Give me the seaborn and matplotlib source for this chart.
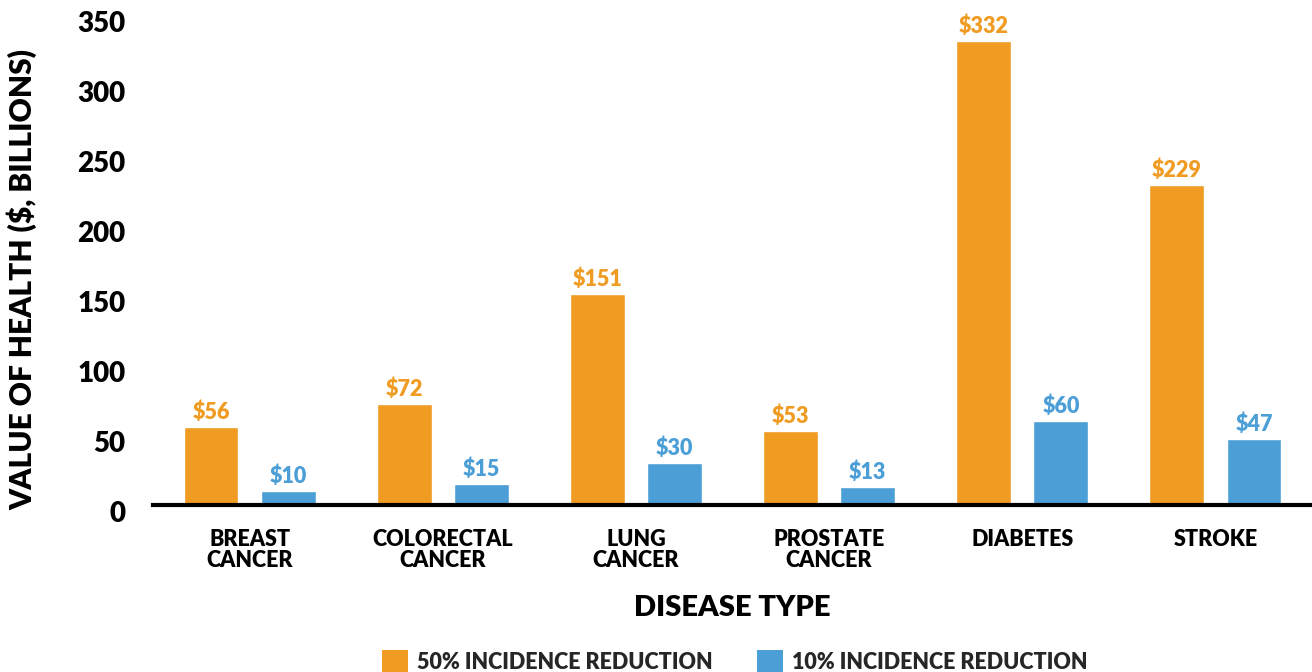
import matplotlib
matplotlib.use("Agg")
import matplotlib.pyplot as plt
from matplotlib.patches import Patch
from matplotlib.transforms import ScaledTranslation
import pandas as pd
import seaborn as sns

# Value of health by disease, $ billions
diseases = ["BREAST\nCANCER", "COLORECTAL\nCANCER", "LUNG\nCANCER",
            "PROSTATE\nCANCER", "DIABETES", "STROKE"]
reduction_50 = [56, 72, 151, 53, 332, 229]
reduction_10 = [10, 15, 30, 13, 60, 47]
series_names = ["50% INCIDENCE REDUCTION", "10% INCIDENCE REDUCTION"]
y_ticks = [0, 50, 100, 150, 200, 250, 300, 350]

ORANGE = "#F09B22"
BLUE = "#4C9FD6"
palette = [ORANGE, BLUE]

df = pd.DataFrame({
    "disease": diseases * 2,
    "value": reduction_50 + reduction_10,
    "series": [series_names[0]] * len(diseases) + [series_names[1]] * len(diseases),
})

sns.set_theme(style="white")
plt.rcParams["font.family"] = ["Lato", "DejaVu Sans"]

fig = plt.figure(figsize=(13.12, 6.72), dpi=100)
ax = fig.add_axes([153 / 1312, 1 - 505 / 672, 1 - 153 / 1312, (505 - 16) / 672])

sns.barplot(data=df, x="disease", y="value", hue="series", order=diseases,
            hue_order=series_names, palette=palette, width=0.8, gap=0.29,
            saturation=1, legend=False, ax=ax, errorbar=None)

# Value labels above each bar
for container, color, vals in zip(ax.containers, palette, [reduction_50, reduction_10]):
    ax.bar_label(container, labels=[f"${v}" for v in vals], padding=3,
                 color=color, fontsize=15.5, fontweight="heavy")

ax.set_xlim(-0.5, len(diseases) - 0.5)
ax.set_ylim(0, 350)
ax.set_yticks(y_ticks)
ax.set_yticklabels([str(t) for t in y_ticks])

for s in ["top", "right", "left"]:
    ax.spines[s].set_visible(False)
ax.spines["bottom"].set_color("black")
ax.spines["bottom"].set_linewidth(3)

ax.tick_params(axis="y", length=0, pad=20, labelsize=20, labelcolor="black")
ax.tick_params(axis="x", length=0, pad=17, labelsize=15.5, labelcolor="black")
for lab in ax.get_yticklabels():
    lab.set_fontweight("heavy")
    lab.set_transform(lab.get_transform() + ScaledTranslation(0, -6 / 100, fig.dpi_scale_trans))
for lab in ax.get_xticklabels():
    lab.set_fontweight("heavy")
    lab.set_linespacing(1.05)

ax.set_xlabel("DISEASE TYPE", fontsize=21, fontweight="heavy", color="black")
ax.xaxis.set_label_coords(0.5, -0.185)
ax.set_ylabel("VALUE OF HEALTH ($, BILLIONS)", fontsize=21.5, fontweight="heavy", color="black")
ax.yaxis.set_label_coords(-0.113, 0.462)
ax.yaxis.label.set_va("center")

handles = [Patch(facecolor=c, edgecolor="none", label=n) for c, n in zip(palette, series_names)]
fig.legend(handles=handles, loc="lower center", bbox_to_anchor=(0.56, -0.03), ncol=2,
           frameon=False, prop={"size": 15.5, "weight": "heavy"},
           handlelength=1.2, handleheight=1.2, handletextpad=0.4, columnspacing=2.1)

fig.savefig("out.png", dpi=100)
